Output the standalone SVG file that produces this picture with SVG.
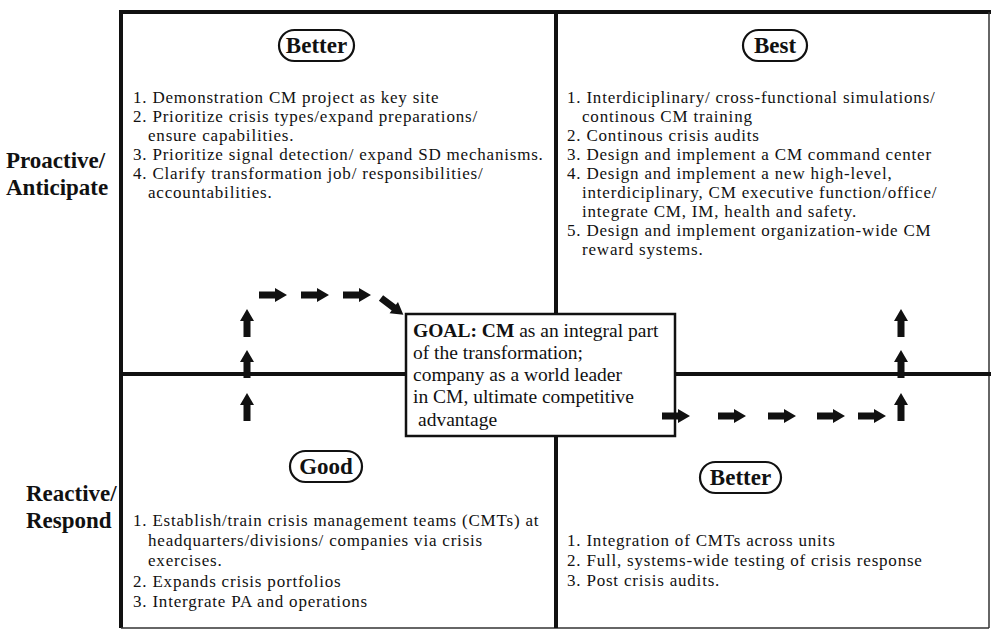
<svg xmlns="http://www.w3.org/2000/svg" width="991" height="631" viewBox="0 0 991 631">
<style>
.t{font-family:"Liberation Serif","Times New Roman",serif;font-size:17px;letter-spacing:0.8px;fill:#111}
.g{font-family:"Liberation Serif","Times New Roman",serif;font-size:19.5px;fill:#111}
.lab{font-family:"Liberation Serif","Times New Roman",serif;font-size:23px;font-weight:bold;fill:#111}
.ov{font-family:"Liberation Serif","Times New Roman",serif;font-size:23px;font-weight:bold;fill:#111;text-anchor:middle}
.pill{fill:#fff;stroke:#111;stroke-width:2.2}
.thick{stroke:#111;stroke-width:4;fill:none}
.thin{stroke:#333;stroke-width:1.5;fill:none}
.arr{fill:#111}
</style>
<defs>
<path id="ar" d="M0,-3.5 H16 V-7 L28,0 L16,7 V3.5 H0 Z"/>
</defs>
<rect x="0" y="0" width="991" height="631" fill="#fff"/>
<g id="frame">
<line class="thick" x1="121" y1="12" x2="991" y2="12"/>
<line class="thick" x1="121" y1="10" x2="121" y2="628"/>
<line class="thin" x1="989" y1="12" x2="989" y2="628"/>
<line class="thin" x1="121" y1="628" x2="989" y2="628"/>
<line class="thick" x1="556" y1="12" x2="556" y2="314"/>
<line class="thick" x1="556" y1="436" x2="556" y2="628"/>
<line class="thick" x1="121" y1="374" x2="406" y2="374"/>
<line class="thick" x1="675" y1="374" x2="991" y2="374"/>
</g>
<g id="axis-labels">
<text class="lab" x="6" y="168">Proactive/</text>
<text class="lab" x="6" y="195">Anticipate</text>
<text class="lab" x="26" y="501">Reactive/</text>
<text class="lab" x="26" y="528">Respond</text>
</g>
<g id="q-better-top">
<rect class="pill" x="279" y="30" width="75" height="31" rx="15.5"/>
<text class="ov" x="316.5" y="53">Better</text>
<text class="t" x="133" y="103">1. Demonstration CM project as key site</text>
<text class="t" x="133" y="122">2. Prioritize crisis types/expand preparations/</text>
<text class="t" x="148" y="141">ensure capabilities.</text>
<text class="t" x="133" y="160">3. Prioritize signal detection/ expand SD mechanisms.</text>
<text class="t" x="133" y="179">4. Clarify transformation job/ responsibilities/</text>
<text class="t" x="148" y="198">accountabilities.</text>
</g>
<g id="q-best">
<rect class="pill" x="743" y="30" width="64" height="31" rx="15.5"/>
<text class="ov" x="775" y="53">Best</text>
<text class="t" x="567" y="103">1. Interdiciplinary/ cross-functional simulations/</text>
<text class="t" x="582" y="122">continous CM training</text>
<text class="t" x="567" y="141">2. Continous crisis audits</text>
<text class="t" x="567" y="160">3. Design and implement a CM command center</text>
<text class="t" x="567" y="179">4. Design and implement a new high-level,</text>
<text class="t" x="582" y="198">interdiciplinary, CM executive function/office/</text>
<text class="t" x="582" y="217">integrate CM, IM, health and safety.</text>
<text class="t" x="567" y="236">5. Design and implement organization-wide CM</text>
<text class="t" x="582" y="255">reward systems.</text>
</g>
<g id="q-good">
<rect class="pill" x="290" y="451" width="72" height="31" rx="15.5"/>
<text class="ov" x="326" y="474">Good</text>
<text class="t" x="133" y="526">1. Establish/train crisis management teams (CMTs) at</text>
<text class="t" x="148" y="546">headquarters/divisions/ companies via crisis</text>
<text class="t" x="148" y="566">exercises.</text>
<text class="t" x="133" y="587">2. Expands crisis portfolios</text>
<text class="t" x="133" y="607">3. Intergrate PA and operations</text>
</g>
<g id="q-better-bottom">
<rect class="pill" x="700" y="462" width="81" height="31" rx="15.5"/>
<text class="ov" x="740.5" y="485">Better</text>
<text class="t" x="567" y="546">1. Integration of CMTs across units</text>
<text class="t" x="567" y="566">2. Full, systems-wide testing of crisis response</text>
<text class="t" x="567" y="586">3. Post crisis audits.</text>
</g>
<g id="goal">
<rect x="406" y="314" width="269" height="122" fill="#fff" stroke="#111" stroke-width="2.5"/>
<text class="g" x="413" y="337"><tspan font-weight="bold">GOAL: CM</tspan> as an integral part</text>
<text class="g" x="413" y="359">of the transformation;</text>
<text class="g" x="413" y="381">company as a world leader</text>
<text class="g" x="413" y="403">in CM, ultimate competitive</text>
<text class="g" x="418" y="426">advantage</text>
</g>
<g id="connectors" class="arr">
<use href="#ar" transform="translate(247,337) rotate(-90)"/>
<use href="#ar" transform="translate(247,378) rotate(-90)"/>
<use href="#ar" transform="translate(247,421) rotate(-90)"/>
<use href="#ar" transform="translate(259,295)"/>
<use href="#ar" transform="translate(301,295)"/>
<use href="#ar" transform="translate(343,295)"/>
<use href="#ar" transform="translate(381,298) rotate(37)"/>
<use href="#ar" transform="translate(662,416)"/>
<use href="#ar" transform="translate(718,416)"/>
<use href="#ar" transform="translate(768,416)"/>
<use href="#ar" transform="translate(817,416)"/>
<use href="#ar" transform="translate(858,416)"/>
<use href="#ar" transform="translate(901,421) rotate(-90)"/>
<use href="#ar" transform="translate(901,378) rotate(-90)"/>
<use href="#ar" transform="translate(901,337) rotate(-90)"/>
</g>
</svg>
